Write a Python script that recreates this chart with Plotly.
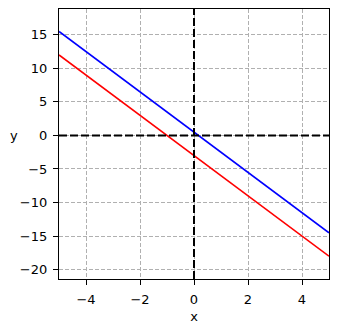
import plotly.graph_objects as go

x_ends = [-5, 5]
blue_y = [15.5, -14.5]
red_y = [12.0, -18.0]
x_ticks = [-4, -2, 0, 2, 4]
y_ticks = [-20, -15, -10, -5, 0, 5, 10, 15]
x_range = [-5, 5]
y_range = [-21.4, 18.85]

fig = go.Figure()
fig.add_trace(go.Scatter(x=x_ends, y=blue_y, mode="lines", line=dict(color="blue", width=1.7)))
fig.add_trace(go.Scatter(x=x_ends, y=red_y, mode="lines", line=dict(color="red", width=1.7)))

fig.add_hline(y=0, line=dict(color="black", dash="8px,3px", width=2))
fig.add_vline(x=0, line=dict(color="black", dash="8px,3px", width=2))

font = dict(family="DejaVu Sans", size=13, color="black")
axis_common = dict(
    showline=True, linecolor="black", linewidth=1.2, mirror=True,
    ticks="outside", ticklen=5, tickwidth=1, tickcolor="black",
    showgrid=True, gridcolor="#b0b0b0", griddash="4px,2px", gridwidth=0.8,
    zeroline=False, tickfont=font, automargin=False, ticklabelstandoff=3,
)
fig.update_xaxes(range=x_range, tickvals=x_ticks, ticktext=["\u22124", "\u22122", "0", "2", "4"],
                 title=dict(text="x", font=font, standoff=6), **axis_common)
fig.update_yaxes(range=y_range, tickvals=y_ticks,
                 ticktext=["\u221220", "\u221215", "\u221210", "\u22125", "0", "5", "10", "15"],
                 **axis_common)

fig.add_annotation(text="y", xref="paper", yref="y", x=-0.168, y=0, showarrow=False,
                   font=font, xanchor="center", yanchor="middle")

fig.update_layout(
    width=339, height=332, showlegend=False,
    margin=dict(l=59, r=10, t=9, b=53),
    plot_bgcolor="white", paper_bgcolor="white",
)
fig.write_html("out.html")
